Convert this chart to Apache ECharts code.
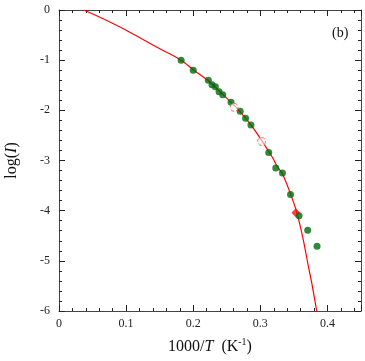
<!DOCTYPE html>
<html>
<head>
<meta charset="utf-8">
<script src="https://cdn.jsdelivr.net/npm/echarts@6/dist/echarts.min.js"></script>
<style>html,body{margin:0;padding:0;background:#fff;overflow:hidden;}#c{width:365px;height:361px;}</style>
</head>
<body>
<div id="c"></div>
<script>
// Fitted curve
const curveX = [0.037, 0.065, 0.0994, 0.149, 0.182, 0.200, 0.2225, 0.244, 0.2648, 0.286, 0.297, 0.3125, 0.3194, 0.3244, 0.333, 0.344, 0.354, 0.364, 0.3716, 0.3766, 0.384];
const curveY = [0, -0.17, -0.398, -0.763, -1.0, -1.19, -1.41, -1.68, -1.95, -2.29, -2.50, -2.82, -2.97, -3.10, -3.27, -3.63, -4.02, -4.58, -5.11, -5.44, -6.0];
// Green filled data points
const greenX = [0.182, 0.200, 0.2225, 0.228, 0.233, 0.2385, 0.244, 0.2563, 0.270, 0.278, 0.286, 0.3125, 0.323, 0.333, 0.345, 0.3577, 0.3706, 0.3845];
const greenY = [-1.0, -1.2, -1.40, -1.49, -1.53, -1.63, -1.69, -1.84, -2.02, -2.16, -2.29, -2.84, -3.15, -3.25, -3.68, -4.10, -4.39, -4.71];
// Red open circles
const openX = [0.261, 0.302];
const openY = [-1.94, -2.62];
// Red filled marker
const redX = [0.353];
const redY = [-4.04];

const zip = (a, b) => a.map((v, i) => [v, b[i]]);
const font = '"Liberation Serif", "Times New Roman", serif';
const axisCol = '#444';

function xAx(pos, show) {
  return {
    type: 'value', position: pos, min: 0, max: 0.45, interval: 0.1,
    axisLine: { show: true, onZero: false, lineStyle: { color: axisCol, width: 1 } },
    axisTick: { show: true, inside: true, length: 6, lineStyle: { color: '#222' } },
    minorTick: { show: true, splitNumber: 5, length: 3, lineStyle: { color: '#222' } },
    splitLine: { show: false },
    axisLabel: { show: show, showMaxLabel: false, color: '#222', fontFamily: font, fontSize: 12, margin: 7,
      formatter: v => (v === 0 ? '0' : v.toFixed(1)) }
  };
}
function yAx(pos, show) {
  return {
    type: 'value', position: pos, min: -6, max: 0, interval: 1,
    axisLine: { show: true, onZero: false, lineStyle: { color: axisCol, width: 1 } },
    axisTick: { show: true, inside: true, length: 6, lineStyle: { color: '#222' } },
    minorTick: { show: true, splitNumber: 5, length: 3, lineStyle: { color: '#222' } },
    splitLine: { show: false },
    axisLabel: { show: show, color: '#222', fontFamily: font, fontSize: 12, margin: 9 }
  };
}

const xa = xAx('bottom', true);
xa.name = '1000/{i|T}  (K{sup|-1})';
xa.nameLocation = 'middle';
xa.nameGap = 26;
xa.nameTextStyle = { color: '#111', fontFamily: font, fontSize: 16,
  rich: { i: { fontStyle: 'italic', fontFamily: font, fontSize: 16, color: '#111' },
          sup: { fontFamily: font, fontSize: 10, color: '#111', verticalAlign: 'bottom', padding: [0, 0, 10, 0] } } };
const ya = yAx('left', true);
ya.name = 'log({i|I})';
ya.nameLocation = 'middle';
ya.nameGap = 39;
ya.nameTextStyle = { color: '#111', fontFamily: font, fontSize: 16,
  rich: { i: { fontStyle: 'italic', fontFamily: font, fontSize: 16, color: '#111' } } };

const chart = echarts.init(document.getElementById('c'), null, { renderer: 'canvas' });
chart.setOption({
  animation: false,
  backgroundColor: '#fff',
  grid: { left: 59, right: 4, top: 10, bottom: 50, containLabel: false, outerBoundsMode: 'none' },
  xAxis: [xa, xAx('top', false)],
  yAxis: [ya, yAx('right', false)],
  graphic: [{ type: 'text', left: 332, top: 26, style: { text: '(b)', fontFamily: font, fontSize: 14, fill: '#111' } }],
  series: [
    { type: 'line', data: zip(curveX, curveY), smooth: 0.3, showSymbol: false, symbol: 'none',
      lineStyle: { color: '#ff0000', width: 1.2 }, z: 2 },
    { type: 'scatter', data: zip(openX, openY), symbol: 'circle', symbolSize: 8,
      itemStyle: { color: 'rgba(255,255,255,0.6)', borderColor: '#f06a6a', borderWidth: 1, borderType: 'dashed', opacity: 1 }, z: 6 },
    { type: 'scatter', data: zip(redX, redY), symbol: 'diamond', symbolSize: 9,
      itemStyle: { color: '#ff1010' }, z: 4 },
    { type: 'scatter', data: zip(greenX, greenY), symbol: 'circle', symbolSize: 7,
      itemStyle: { color: '#006a0c' }, z: 5 }
  ]
});
</script>
</body>
</html>
